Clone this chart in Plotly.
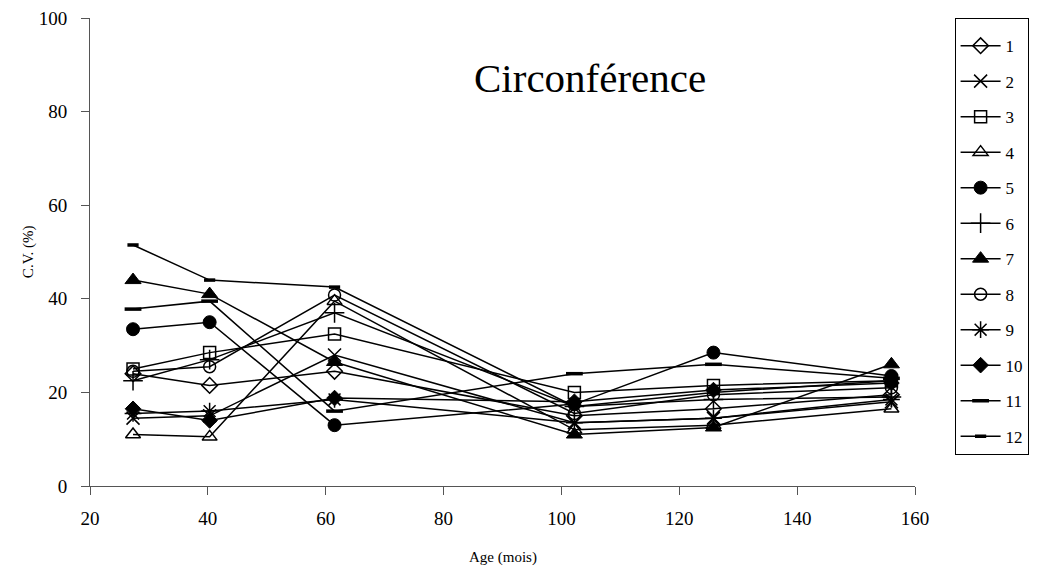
import plotly.graph_objects as go

ages = [27.3, 40.3, 61.5, 102.2, 125.8, 156.0]
series_names = ["1", "2", "3", "4", "5", "6", "7", "8", "9", "10", "11", "12"]
s1 = [24.0, 21.5, 24.5, 15.0, 16.5, 19.5]
s2 = [14.5, 15.0, 28.0, 13.5, 14.5, 18.0]
s3 = [25.0, 28.5, 32.5, 20.0, 21.5, 22.5]
s4 = [11.0, 10.5, 39.5, 12.0, 13.0, 16.5]
s5 = [33.5, 35.0, 13.0, 17.5, 28.5, 23.5]
s6 = [22.5, 27.0, 37.0, 17.0, 18.5, 19.0]
s7 = [44.0, 41.0, 26.5, 11.0, 12.5, 26.0]
s8 = [24.5, 25.5, 40.8, 15.5, 19.5, 21.0]
s9 = [15.5, 16.0, 18.5, 13.5, 14.5, 18.5]
s10 = [16.5, 14.0, 18.8, 18.0, 20.5, 22.0]
s11 = [37.8, 39.5, 16.0, 24.0, 26.0, 23.0]
s12 = [51.5, 44.0, 42.5, 17.0, 20.0, 22.5]
all_series = [s1, s2, s3, s4, s5, s6, s7, s8, s9, s10, s11, s12]

symbols = ["diamond-open", "x-thin-open", "square-open", "triangle-up-open", "circle",
           "cross-thin-open", "triangle-up", "circle-open", "asterisk-open", "diamond",
           "line-ew-open", "line-ew-open"]
sizes = [12, 13, 12, 13, 13, 14, 14, 12, 14, 12, 12, 8]
mlw = [1.5, 1.5, 1.5, 1.5, 1, 1.5, 1, 1.5, 1.5, 1, 3.5, 3.5]

fig = go.Figure()
for name, vals, sym, sz, lw in zip(series_names, all_series, symbols, sizes, mlw):
    fig.add_trace(go.Scatter(
        x=ages, y=vals, name=name, mode="lines+markers",
        line=dict(color="black", width=1.5),
        marker=dict(symbol=sym, size=sz, color="black",
                    line=dict(color="black", width=lw)),
        legendgroup=name,
    ))

font_family = "Liberation Serif, Times New Roman, serif"
axis_common = dict(showgrid=False, zeroline=False, showline=True, linecolor="#555",
                   linewidth=1, ticks="outside", ticklen=8, tickcolor="#555",
                   automargin=False, tickfont=dict(size=19), ticklabeloverflow="allow")
fig.update_layout(
    width=1037, height=571,
    paper_bgcolor="white", plot_bgcolor="white",
    margin=dict(l=82, r=130, t=10, b=93),
    font=dict(family=font_family, size=16, color="black"),
    showlegend=True,
    legend=dict(x=1.048, y=1.0, xanchor="left", yanchor="top",
                bordercolor="black", borderwidth=1, bgcolor="white",
                font=dict(family=font_family, size=17),
                title=dict(text="&nbsp;", font=dict(size=7)),
                itemwidth=40, tracegroupgap=10.4, itemsizing="trace"),
    xaxis=dict(range=[20, 160], tickvals=[20, 40, 60, 80, 100, 120, 140, 160],
               ticklabelstandoff=7, **axis_common),
    yaxis=dict(range=[0, 100], tickvals=[0, 20, 40, 60, 80, 100],
               ticklabelstandoff=10, **axis_common),
    annotations=[
        dict(text="Circonférence", x=0.606, y=0.872, xref="paper", yref="paper",
             xanchor="center", yanchor="middle", showarrow=False,
             font=dict(family=font_family, size=41, color="black")),
        dict(text="Age (mois)", x=0.5, y=-0.152, xref="paper", yref="paper",
             xanchor="center", yanchor="middle", showarrow=False,
             font=dict(family=font_family, size=15, color="black")),
        dict(text="C.V. (%)", x=-0.075, y=0.5, xref="paper", yref="paper",
             xanchor="center", yanchor="middle", showarrow=False, textangle=-90,
             font=dict(family=font_family, size=15, color="black")),
    ],
)

fig.write_html("out.html")
